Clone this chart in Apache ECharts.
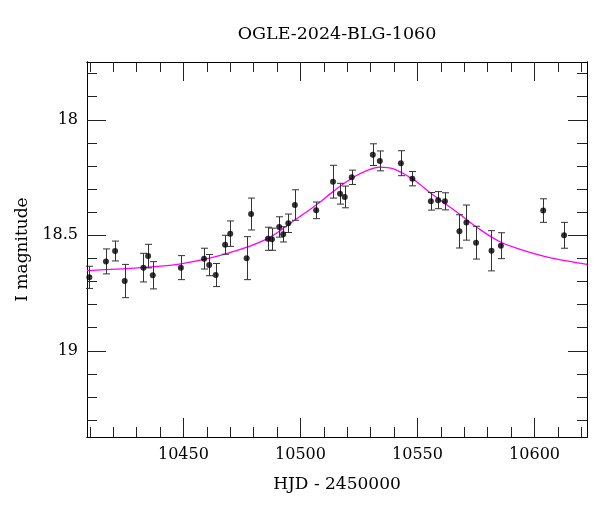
<!DOCTYPE html>
<html><head><meta charset="utf-8">
<script src="https://cdn.jsdelivr.net/npm/echarts@6/dist/echarts.min.js"></script>
<style>html,body{margin:0;padding:0;background:#fff}#c{width:600px;height:512px}</style>
</head><body><div id="c"></div>
<script>
// Observations (HJD - 2450000, I magnitude, 1-sigma error)
const hjd = [10409.8,10416.9,10420.8,10424.9,10432.9,10434.9,10436.9,10448.9,10458.8,10461.0,
             10463.8,10467.8,10470.0,10477.0,10478.9,10486.1,10487.8,10490.9,10492.6,10494.8,
             10497.6,10506.7,10513.9,10516.9,10518.9,10521.9,10530.9,10533.9,10542.9,10547.8,
             10555.7,10558.8,10561.7,10567.9,10570.9,10575.0,10581.6,10585.6,10603.7,10612.6];
const mag = [18.682,18.613,18.568,18.698,18.640,18.590,18.673,18.640,18.601,18.629,
             18.672,18.541,18.493,18.599,18.408,18.515,18.517,18.464,18.496,18.448,
             18.369,18.392,18.268,18.320,18.334,18.249,18.151,18.178,18.188,18.255,
             18.353,18.348,18.353,18.483,18.445,18.532,18.567,18.545,18.393,18.500];
const magErr = [0.048,0.054,0.043,0.072,0.062,0.051,0.059,0.052,0.045,0.046,
                0.050,0.041,0.055,0.093,0.069,0.050,0.048,0.044,0.033,0.040,
                0.066,0.036,0.071,0.045,0.047,0.031,0.047,0.043,0.054,0.031,
                0.038,0.037,0.037,0.072,0.076,0.071,0.087,0.056,0.051,0.056];
// Model curve
const modelHjd = [10408.8,10436.3,10450.6,10467.7,10484.8,10497.6,10506.7,10513.9,10521.9,10528.3,
                  10534.0,10539.7,10547.7,10551.1,10555.7,10561.7,10567.9,10575.0,10585.2,10593.8,
                  10603.8,10613.8,10622.4];
const modelMag = [18.653,18.637,18.620,18.581,18.520,18.434,18.369,18.311,18.253,18.220,
                  18.205,18.213,18.255,18.280,18.318,18.362,18.408,18.463,18.528,18.561,
                  18.590,18.611,18.626];
// Axis ticks
const xMajorTicks = [10450,10500,10550,10600];
const xMinorTicks = [10410,10420,10430,10440,10460,10470,10480,10490,10510,10520,10530,10540,10560,10570,10580,10590,10610,10620];
const yMajorTicks = [18,18.5,19];
const yMinorTicks = [17.8,17.9,18.1,18.2,18.3,18.4,18.6,18.7,18.8,18.9,19.1,19.2,19.3];

const X_MIN = 10408.8, X_MAX = 10622.4, Y_MIN = 17.75, Y_MAX = 19.373;
const FONT = 'DejaVu Serif';

function xAx(pos, ticks, len, showLabel) {
  return {
    type: 'value', gridIndex: 0, position: pos, min: X_MIN, max: X_MAX,
    axisLine: {show: true, onZero: false, lineStyle: {color: '#000', width: 1}},
    axisTick: {show: true, inside: true, length: len, customValues: ticks, lineStyle: {color: '#222', width: 1}},
    axisLabel: showLabel ? {show: true, customValues: ticks, margin: 10, color: '#000', fontFamily: FONT, fontSize: 16,
      formatter: v => String(v)} : {show: false},
    splitLine: {show: false}
  };
}
function yAx(pos, ticks, len, showLabel) {
  return {
    type: 'value', gridIndex: 0, position: pos, min: Y_MIN, max: Y_MAX, inverse: true,
    axisLine: {show: true, onZero: false, lineStyle: {color: '#000', width: 1}},
    axisTick: {show: true, inside: true, length: len, customValues: ticks, lineStyle: {color: '#222', width: 1}},
    axisLabel: showLabel ? {show: true, customValues: ticks, margin: 9, color: '#000', fontFamily: FONT, fontSize: 16,
      formatter: v => String(v)} : {show: false},
    splitLine: {show: false}
  };
}

const xMain = xAx('bottom', xMajorTicks, 19, true);
xMain.name = 'HJD - 2450000';
xMain.nameLocation = 'middle';
xMain.nameGap = 39;
xMain.nameTextStyle = {color: '#000', fontFamily: FONT, fontSize: 17};
const yMain = yAx('left', yMajorTicks, 19, true);
yMain.name = 'I magnitude';
yMain.nameLocation = 'middle';
yMain.nameGap = 56;
yMain.nameTextStyle = {color: '#000', fontFamily: FONT, fontSize: 17};

const chart = echarts.init(document.getElementById('c'), null, {renderer: 'canvas'});
chart.setOption({
  animation: false,
  backgroundColor: '#fff',
  grid: {left: 87, top: 62, width: 500, height: 375, containLabel: false},
  graphic: [{
    type: 'text', x: 337, y: 34,
    style: {text: 'OGLE-2024-BLG-1060', fill: '#000', font: '17.5px "DejaVu Serif"', align: 'center', verticalAlign: 'middle'}
  }],
  xAxis: [xMain, xAx('bottom', xMinorTicks, 10, false), xAx('top', xMajorTicks, 19, false), xAx('top', xMinorTicks, 10, false)],
  yAxis: [yMain, yAx('left', yMinorTicks, 10, false), yAx('right', yMajorTicks, 19, false), yAx('right', yMinorTicks, 10, false)],
  series: [
    {
      type: 'line', xAxisIndex: 0, yAxisIndex: 0,
      data: modelHjd.map((x, i) => [x, modelMag[i]]),
      smooth: 0.4, showSymbol: false, symbol: 'none',
      lineStyle: {color: '#ff00ff', width: 1.3}, z: 2
    },
    {
      type: 'custom', xAxisIndex: 0, yAxisIndex: 0,
      data: hjd.map((x, i) => [x, mag[i], magErr[i]]),
      encode: {x: 0, y: 1},
      renderItem: function (params, api) {
        const x = api.value(0), y = api.value(1), e = api.value(2);
        const t = api.coord([x, y - e]);
        const b = api.coord([x, y + e]);
        const cx = Math.round(api.coord([x, y])[0]) + 0.5;
        const hw = 3.5;
        const st = {stroke: '#333', lineWidth: 1};
        return {type: 'group', children: [
          {type: 'line', shape: {x1: cx, y1: t[1], x2: cx, y2: b[1]}, style: st},
          {type: 'line', shape: {x1: cx - hw, y1: t[1], x2: cx + hw, y2: t[1]}, style: st},
          {type: 'line', shape: {x1: cx - hw, y1: b[1], x2: cx + hw, y2: b[1]}, style: st}
        ]};
      },
      z: 3
    },
    {
      type: 'scatter', xAxisIndex: 0, yAxisIndex: 0,
      data: hjd.map((x, i) => [x, mag[i]]),
      symbol: 'circle', symbolSize: 6,
      itemStyle: {color: '#000'}, z: 4
    }
  ]
});
</script>
</body></html>
